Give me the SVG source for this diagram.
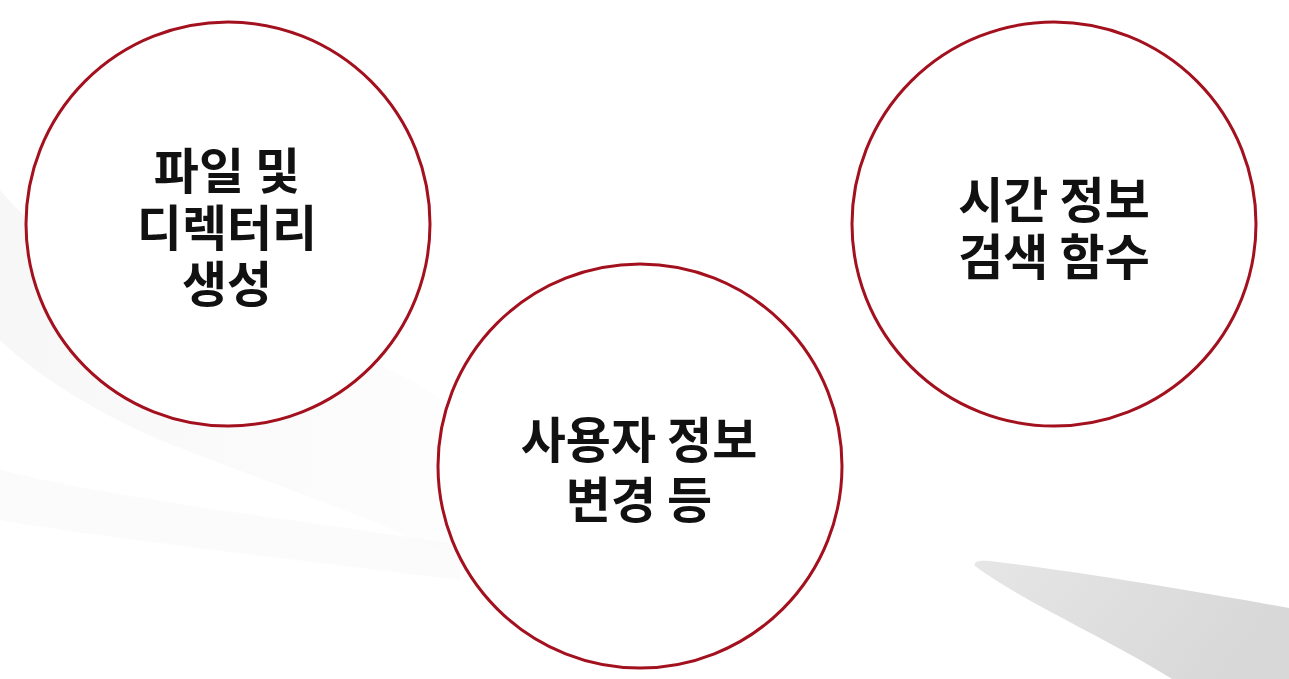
<svg xmlns="http://www.w3.org/2000/svg" width="1289" height="679" viewBox="0 0 1289 679">
  <defs>
    <linearGradient id="blade" x1="0" y1="0" x2="1" y2="0.3">
      <stop offset="0" stop-color="#e6e6e6"/>
      <stop offset="1" stop-color="#d8d8d8"/>
    </linearGradient>
    <linearGradient id="swoosh" x1="0" y1="0" x2="1" y2="0">
      <stop offset="0" stop-color="#efefef"/>
      <stop offset="1" stop-color="#fcfcfc"/>
    </linearGradient>
  </defs>
  <style>
    .node circle { fill: #ffffff; stroke: #a3111f; stroke-width: 3; }
    .node text { font-family: "Noto Sans CJK KR", "Noto Sans", sans-serif; font-size: 49px; font-weight: bold; fill: #111111; text-anchor: middle; }
  </style>
  <rect x="0" y="0" width="1289" height="679" fill="#ffffff"/>
  <g id="background">
    <path d="M0,190 C60,260 140,300 260,330 C340,350 420,370 460,420 L460,560 C380,520 260,480 160,440 C90,410 30,370 0,340 Z" fill="url(#swoosh)" opacity="0.5"/>
    <path d="M0,470 C120,500 300,520 460,545 L460,580 C300,560 120,540 0,520 Z" fill="#f7f7f7" opacity="0.5"/>
    <path d="M975,566 C973,561 980,560 990,561 C1080,572 1200,592 1289,608 L1289,679 L1172,679 C1110,640 1020,600 975,566 Z" fill="url(#blade)"/>
  </g>
  <g id="node-file" class="node">
    <circle cx="228" cy="224" r="202"/>
    <text x="227" y="189"><tspan x="227" y="189">파일 및</tspan><tspan x="227" y="246">디렉터리</tspan><tspan x="227" y="302">생성</tspan></text>
  </g>
  <g id="node-user" class="node">
    <circle cx="640" cy="466" r="202"/>
    <text x="639" y="458"><tspan x="639" y="458">사용자 정보</tspan><tspan x="639" y="518">변경 등</tspan></text>
  </g>
  <g id="node-time" class="node">
    <circle cx="1054" cy="224" r="202"/>
    <text x="1054" y="218"><tspan x="1054" y="218">시간 정보</tspan><tspan x="1054" y="275">검색 함수</tspan></text>
  </g>
  <g id="connectors"/>
</svg>
